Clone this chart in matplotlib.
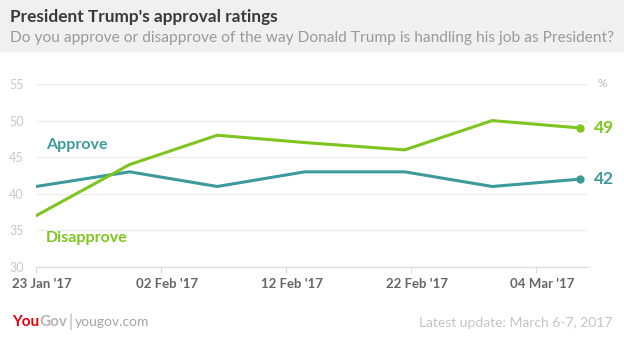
import matplotlib.pyplot as plt
import matplotlib.dates as mdates
import matplotlib.transforms as mtransforms
import pandas as pd

# Dados
datas = pd.to_datetime(['2017-01-23 00:00', '2017-01-30 12:00', '2017-02-06 12:00',
                        '2017-02-13 12:00', '2017-02-21 12:00', '2017-02-28 12:00',
                        '2017-03-07 12:00'])
aprova = [41, 43, 41, 43, 43, 41, 42]
desaprova = [37, 44, 48, 47, 46, 50, 49]
ticks_x = pd.to_datetime(['2017-01-23', '2017-02-02', '2017-02-12', '2017-02-22', '2017-03-04'])
ticks_y = [30, 35, 40, 45, 50, 55]

cor_aprova = '#3d9a9b'
cor_desaprova = '#7ec51f'
fonte = 'Lato'

fig = plt.figure(figsize=(6.24, 3.45), dpi=100)
fig.patch.set_facecolor('white')

# faixa cinza do título
fig.patches.append(plt.Rectangle((0, 1 - 52 / 345), 1, 52 / 345, transform=fig.transFigure,
                                 facecolor='#f0f0f0', edgecolor='none', zorder=0))
fig.text(10 / 624, 1 - 17 / 345, "President Trump's approval ratings", fontsize=12.4,
         fontweight='bold', color='#3a3a3a', family=fonte, va='center', ha='left')
fig.text(10 / 624, 1 - 38 / 345,
         "Do you approve or disapprove of the way Donald Trump is handling his job as President?",
         fontsize=11.2, color='#9a9a9a', family=fonte, va='center', ha='left')

ax = fig.add_axes([36 / 624, 1 - 267 / 345, (588 - 36) / 624, (267 - 84) / 345])
ax.plot(datas, aprova, color=cor_aprova, linewidth=2.2, solid_joinstyle='miter')
ax.plot(datas, desaprova, color=cor_desaprova, linewidth=2.2, solid_joinstyle='miter')
ax.plot(datas[-1:], aprova[-1:], 'o', color=cor_aprova, markersize=5)
ax.plot(datas[-1:], desaprova[-1:], 'o', color=cor_desaprova, markersize=5)

ax.set_ylim(30, 55)
ax.set_xlim(pd.Timestamp('2017-01-23'), pd.Timestamp('2017-03-08 04:00'))
ax.set_yticks(ticks_y)
ax.set_xticks(ticks_x)
ax.xaxis.set_major_formatter(mdates.DateFormatter("%d %b '%y"))
ax.grid(axis='y', color='#ebebeb', linewidth=1)
ax.set_axisbelow(True)
for lado in ['top', 'right', 'left']:
    ax.spines[lado].set_visible(False)
ax.spines['bottom'].set_color('#dcdcdc')
ax.tick_params(axis='y', length=0, pad=9, labelcolor='#c8c8c8', labelsize=9)
ax.tick_params(axis='x', length=4, color='#dcdcdc', pad=4, labelcolor='#666666', labelsize=9.5)
desloc = mtransforms.ScaledTranslation(6 / 100, 0, fig.dpi_scale_trans)
for t in ax.get_xticklabels():
    t.set_fontweight('bold')
    t.set_family(fonte)
    t.set_transform(t.get_transform() + desloc)
for t in ax.get_yticklabels():
    t.set_family(fonte)

# rótulos das séries
ax.text(0.018, 46.6, 'Approve', transform=ax.get_yaxis_transform(), color=cor_aprova,
        fontsize=11.5, fontweight='bold', family=fonte, va='center')
ax.text(0.018, 34.0, 'Disapprove', transform=ax.get_yaxis_transform(), color=cor_desaprova,
        fontsize=11.5, fontweight='bold', family=fonte, va='center')
ax.text(1.01, aprova[-1], str(aprova[-1]), transform=ax.get_yaxis_transform(), color=cor_aprova,
        fontsize=12.5, fontweight='bold', family=fonte, va='center')
ax.text(1.01, desaprova[-1], str(desaprova[-1]), transform=ax.get_yaxis_transform(),
        color=cor_desaprova, fontsize=12.5, fontweight='bold', family=fonte, va='center')
ax.text(1.017, 55, '%', transform=ax.get_yaxis_transform(), color='#bbbbbb',
        fontsize=8.5, family=fonte, va='center')

# rodapé
y_rod = 1 - 322 / 345
t_you = fig.text(12 / 624, y_rod, 'You', color='#e4000f', fontsize=11, fontweight='bold',
                 family=fonte, va='center', ha='left')
fig.canvas.draw()
bb = t_you.get_window_extent()
fig.text(bb.x1 / fig.bbox.width, y_rod, 'Gov', color='#b5b5b5', fontsize=11, fontweight='bold',
         family=fonte, va='center', ha='left')
fig.text(68 / 624, y_rod, '|', color='#b5b5b5', fontsize=12,
         family=fonte, va='center', ha='left')
fig.text(75 / 624, y_rod, 'yougov.com', color='#a5a5a5', fontsize=10,
         family=fonte, va='center', ha='left')
fig.text(612 / 624, 1 - 323 / 345, 'Latest update: March 6-7, 2017', color='#c4c4c4',
         fontsize=10, family=fonte, va='center', ha='right')

fig.savefig('out.png', dpi=100)
